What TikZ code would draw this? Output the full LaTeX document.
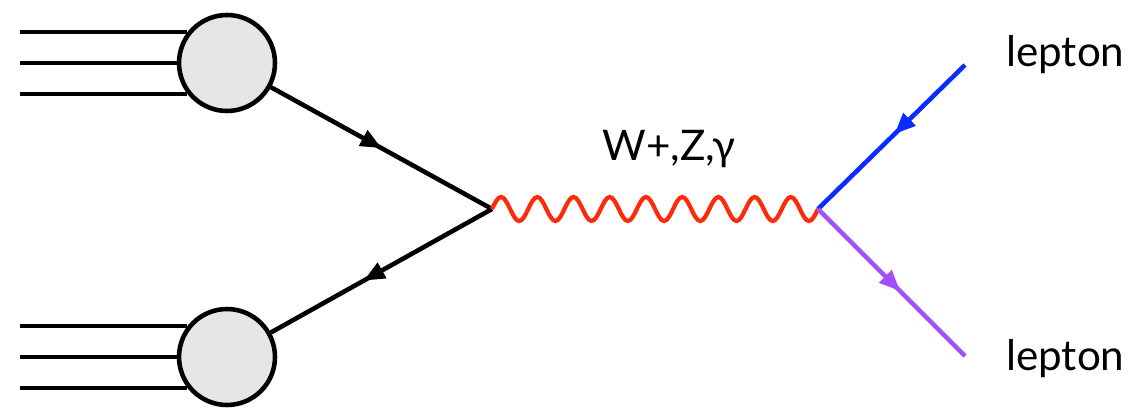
\documentclass[tikz,border=0pt]{standalone}
\usepackage{fontspec}
\setmainfont{Lato}
\usetikzlibrary{arrows.meta,decorations.markings}
\definecolor{FeynRed}{HTML}{FF2A0A}
\definecolor{FeynBlue}{HTML}{0A2CFF}
\definecolor{FeynViolet}{HTML}{A050FF}
\definecolor{FeynGray}{HTML}{E6E6E6}
\tikzset{
  blob/.style={circle,draw=black,line width=2.6pt,fill=FeynGray,minimum size=1.92cm,inner sep=0pt},
  beamline/.style={line width=2.6pt,draw=black},
  fermion/.style={line width=2.6pt,postaction={decorate},decoration={markings,mark=at position #1 with {\arrow{Triangle[length=4.2mm,width=3.4mm]}}}},
  fermion/.default=0.5,
  boson/.style={line width=2.4pt,draw=FeynRed},
  tag/.style={font=\fontsize{24}{28}\selectfont,inner sep=0pt}
}
\begin{document}
\begin{tikzpicture}[x=0.02cm,y=-0.02cm]
\useasboundingbox (0,0) rectangle (1135,409);
\node[blob] (pa) at (227,63) {};
\node[blob] (pb) at (227,357) {};
\coordinate (beamx) at (20,0);
\coordinate (v1) at (492,209);
\coordinate (v2) at (818,209);
\coordinate (la) at (965,65);
\coordinate (lb) at (965,356);
% incoming proton beams
\foreach \a in {142,180,218}{
  \draw[beamline] (pa.\a) -- (pa.\a -| beamx);
  \draw[beamline] (pb.\a) -- (pb.\a -| beamx);
}
\draw[fermion=0.5] (pa) -- (v1);
\draw[fermion=0.58] (v1) -- (pb);
% photon line, 9 waves from v1 to v2
\draw[boson] (v1) \foreach \k in {1,...,9}{
  sin ++(9.0556,-12) cos ++(9.0556,12) sin ++(9.0556,12) cos ++(9.0556,-12)};
\draw[fermion=0.48,draw=FeynBlue] (la) -- (v2);
\draw[fermion=0.56,draw=FeynViolet] (v2) -- (lb);
\node[tag,anchor=base west] (wz) at (602,160) {W+,Z,γ};
\node[tag,anchor=base west] (lta) at (1006,66) {lepton};
\node[tag,anchor=base west] (ltb) at (1006,370) {lepton};
\end{tikzpicture}
\end{document}
